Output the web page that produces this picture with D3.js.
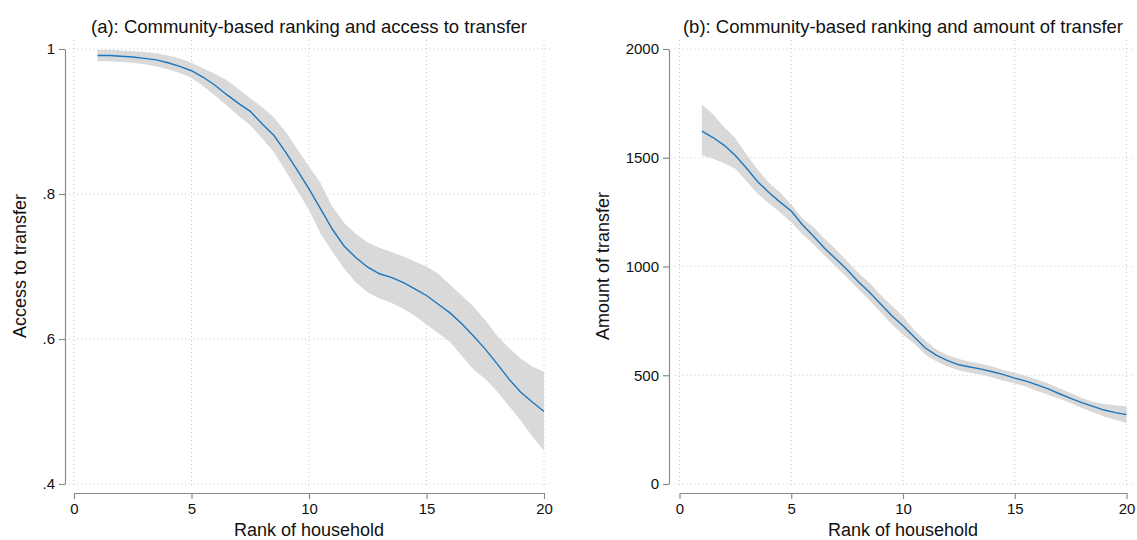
<!DOCTYPE html>
<html>
<head>
<meta charset="utf-8">
<script src="https://cdn.jsdelivr.net/npm/d3@7"></script>
<style>
  body { margin: 0; background: #fff; }
  text { font-family: "Liberation Sans", Arial, sans-serif; fill: #111; }
</style>
</head>
<body>
<div id="chart-area"></div>
<script>
// rank of household (x)
var ranks = [1, 1.5, 2, 2.5, 3, 3.5, 4, 4.5, 5, 5.5, 6, 6.5, 7, 7.5, 8, 8.5, 9, 9.5, 10,
  10.5, 11, 11.5, 12, 12.5, 13, 13.5, 14, 14.5, 15, 15.5, 16, 16.5, 17, 17.5, 18, 18.5, 19, 19.5, 20];

// panel (a): access to transfer
var accessMean = [0.991, 0.991, 0.990, 0.989, 0.987, 0.985, 0.981, 0.976, 0.970, 0.961, 0.950, 0.937,
  0.925, 0.914, 0.897, 0.881, 0.858, 0.833, 0.807, 0.779, 0.751, 0.728, 0.712, 0.699, 0.690, 0.685,
  0.678, 0.669, 0.660, 0.648, 0.636, 0.621, 0.604, 0.586, 0.566, 0.545, 0.527, 0.513, 0.500];
var accessHi = [0.999, 0.999, 0.998, 0.997, 0.996, 0.994, 0.991, 0.987, 0.981, 0.973, 0.966, 0.957,
  0.945, 0.932, 0.920, 0.906, 0.886, 0.862, 0.838, 0.815, 0.782, 0.760, 0.745, 0.733, 0.726, 0.720,
  0.714, 0.707, 0.700, 0.690, 0.675, 0.660, 0.645, 0.626, 0.605, 0.588, 0.573, 0.562, 0.555];
var accessLo = [0.983, 0.983, 0.982, 0.981, 0.979, 0.976, 0.972, 0.967, 0.960, 0.949, 0.936, 0.922,
  0.908, 0.895, 0.877, 0.858, 0.832, 0.805, 0.778, 0.745, 0.720, 0.697, 0.678, 0.664, 0.656, 0.650,
  0.642, 0.632, 0.620, 0.608, 0.596, 0.577, 0.558, 0.545, 0.528, 0.508, 0.488, 0.466, 0.446];

// panel (b): amount of transfer
var amountMean = [1622, 1593, 1557, 1510, 1452, 1390, 1340, 1296, 1255, 1192, 1139, 1083, 1034, 985,
  930, 882, 828, 774, 728, 676, 625, 591, 567, 548, 538, 528, 516, 503, 487, 473, 456, 437, 415, 394,
  374, 357, 340, 328, 319];
var amountHi = [1745, 1700, 1640, 1590, 1515, 1445, 1385, 1340, 1285, 1222, 1180, 1128, 1078, 1025,
  970, 925, 870, 820, 770, 708, 660, 618, 592, 575, 562, 553, 540, 524, 512, 497, 480, 462, 440, 418,
  395, 378, 368, 362, 357];
var amountLo = [1512, 1495, 1475, 1450, 1392, 1335, 1290, 1250, 1203, 1148, 1101, 1050, 1000, 950,
  895, 845, 790, 735, 685, 645, 595, 563, 540, 522, 512, 503, 490, 475, 462, 448, 428, 410, 392, 372,
  350, 330, 310, 295, 281];

// ticks
var xTicks = [0, 5, 10, 15, 20];
var accessTicks = [1, 0.8, 0.6, 0.4];
var accessTickLabels = ["1", ".8", ".6", ".4"];
var amountTicks = [0, 500, 1000, 1500, 2000];

var svg = d3.select("#chart-area")
  .append("svg")
  .attr("width", 1137)
  .attr("height", 540);

function drawPanel(p) {
  var g = svg.append("g");

  var x = d3.scaleLinear().domain([0, 20]).range([p.x0, p.x1]);
  var y = d3.scaleLinear().domain(p.yDomain).range([484, 49]);

  // dotted grid
  g.selectAll(".hgrid")
    .data(p.yTicks)
    .enter()
    .append("line")
    .attr("x1", p.x0 - 5)
    .attr("x2", p.x1 + 8)
    .attr("y1", (d) => y(d))
    .attr("y2", (d) => y(d))
    .attr("stroke", "#c8c8c8")
    .attr("stroke-dasharray", "1,3");

  g.selectAll(".vgrid")
    .data(xTicks)
    .enter()
    .append("line")
    .attr("x1", (d) => x(d))
    .attr("x2", (d) => x(d))
    .attr("y1", 40)
    .attr("y2", 488)
    .attr("stroke", "#c8c8c8")
    .attr("stroke-dasharray", "1,3");

  var rows = ranks.map((r, i) => ({ r: r, m: p.mean[i], lo: p.lo[i], hi: p.hi[i] }));

  g.append("path")
    .datum(rows)
    .attr("fill", "#d9d9d9")
    .attr("d", d3.area()
      .x((d) => x(d.r))
      .y0((d) => y(d.lo))
      .y1((d) => y(d.hi)));

  g.append("path")
    .datum(rows)
    .attr("fill", "none")
    .attr("stroke", "#1c76bd")
    .attr("stroke-width", 1.4)
    .attr("d", d3.line()
      .x((d) => x(d.r))
      .y((d) => y(d.m)));

  // axes
  var yAxis = g.append("g")
    .attr("transform", "translate(" + p.yAxisX + ",0)")
    .call(d3.axisLeft(y)
      .tickValues(p.yTicks)
      .tickFormat(p.yFormat)
      .tickSize(6)
      .tickSizeOuter(0)
      .tickPadding(4));

  var xAxis = g.append("g")
    .attr("transform", "translate(0,493)")
    .call(d3.axisBottom(x)
      .tickValues(xTicks)
      .tickSize(6)
      .tickSizeOuter(0)
      .tickPadding(4));

  [yAxis, xAxis].forEach(function (a) {
    a.select(".domain").attr("stroke", "#8a8a8a").attr("stroke-width", 1.2);
    a.selectAll(".tick line").attr("stroke", "#8a8a8a").attr("stroke-width", 1.2);
    a.selectAll(".tick text")
      .attr("font-size", 15)
      .attr("font-family", "Liberation Sans, Arial, sans-serif")
      .attr("fill", "#111");
  });

  // titles
  g.append("text")
    .attr("x", (p.x0 + p.x1) / 2)
    .attr("y", 33)
    .attr("text-anchor", "middle")
    .attr("font-size", 18.5)
    .text(p.title);

  g.append("text")
    .attr("x", (p.x0 + p.x1) / 2)
    .attr("y", 536)
    .attr("text-anchor", "middle")
    .attr("font-size", 18)
    .text("Rank of household");

  g.append("text")
    .attr("transform", "translate(" + p.yLabelX + ",266) rotate(-90)")
    .attr("text-anchor", "middle")
    .attr("font-size", 18)
    .text(p.yLabel);
}

drawPanel({
  x0: 74, x1: 544, yAxisX: 65, yLabelX: 26,
  yDomain: [0.4, 1], yTicks: accessTicks,
  yFormat: (d, i) => accessTickLabels[i],
  mean: accessMean, lo: accessLo, hi: accessHi,
  title: "(a): Community-based ranking and access to transfer",
  yLabel: "Access to transfer"
});

drawPanel({
  x0: 679.5, x1: 1126.5, yAxisX: 669, yLabelX: 609,
  yDomain: [0, 2000], yTicks: amountTicks,
  yFormat: d3.format("d"),
  mean: amountMean, lo: amountLo, hi: amountHi,
  title: "(b): Community-based ranking and amount of transfer",
  yLabel: "Amount of transfer"
});
</script>
</body>
</html>
